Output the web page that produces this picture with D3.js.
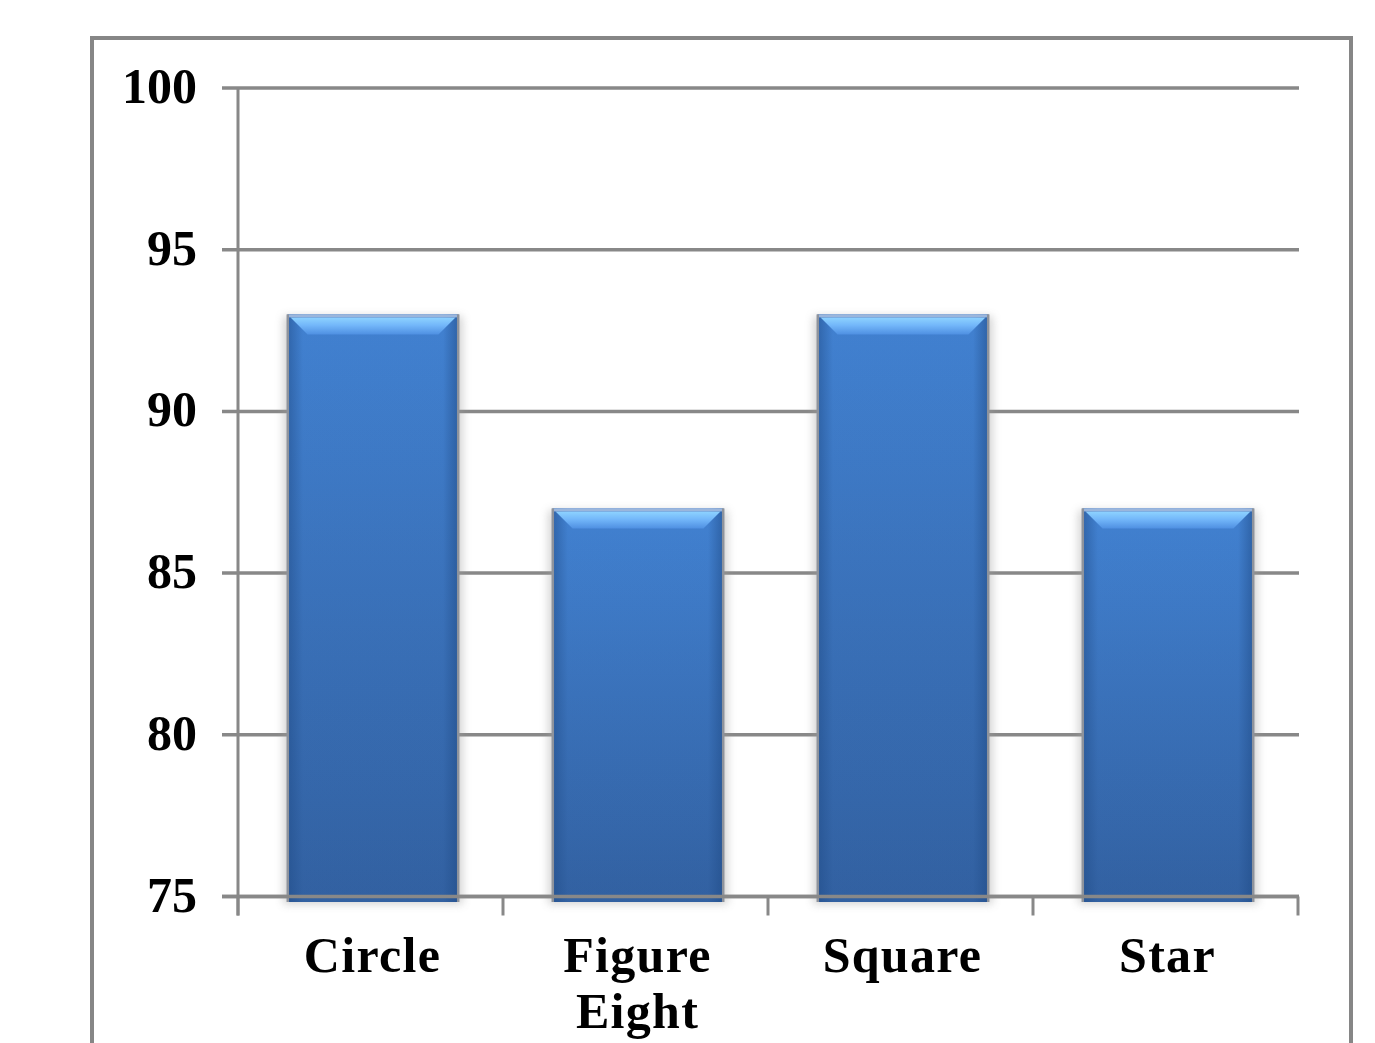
<!DOCTYPE html>
<html>
<head>
<meta charset="utf-8">
<script src="https://cdn.jsdelivr.net/npm/d3@7"></script>
<style>
  body { margin: 0; background: #fff; }
  svg { display: block; }
  text { font-family: "Liberation Serif", "Times New Roman", serif; font-weight: bold; fill: #000; }
</style>
</head>
<body>
<svg></svg>
<script>
const categories = ['Circle', 'Figure Eight', 'Square', 'Star']
const values = [93, 87, 93, 87]
const yTicks = [75, 80, 85, 90, 95, 100]

function drawChart() {
    const W = 1375, H = 1043
    const margin = {top: 88, bottom: 146.5, left: 238, right: 77}
    const width = W - margin.left - margin.right
    const height = H - margin.top - margin.bottom
    const grey = '#888888'

    const svg = d3.select('svg')
        .attr('width', W)
        .attr('height', H)

    // outer chart frame (bottom edge falls outside the picture)
    svg.append('rect')
        .attr('x', 92).attr('y', 38)
        .attr('width', 1259).attr('height', 1100)
        .attr('fill', 'none')
        .attr('stroke', '#868686')
        .attr('stroke-width', 4)

    const defs = svg.append('defs')
    const vgrad = defs.append('linearGradient').attr('id', 'barV')
        .attr('x1', 0).attr('y1', 0).attr('x2', 0).attr('y2', 1)
    vgrad.append('stop').attr('offset', '0%').attr('stop-color', '#4587d9')
    vgrad.append('stop').attr('offset', '100%').attr('stop-color', '#3463a4')

    const hgrad = defs.append('linearGradient').attr('id', 'barH')
        .attr('x1', 0).attr('y1', 0).attr('x2', 1).attr('y2', 0)
    hgrad.append('stop').attr('offset', '0%').attr('stop-color', '#1f4a85').attr('stop-opacity', 0.55)
    hgrad.append('stop').attr('offset', '9%').attr('stop-color', '#1f4a85').attr('stop-opacity', 0.1)
    hgrad.append('stop').attr('offset', '91%').attr('stop-color', '#1f4a85').attr('stop-opacity', 0.1)
    hgrad.append('stop').attr('offset', '100%').attr('stop-color', '#1f4a85').attr('stop-opacity', 0.6)

    const bevel = defs.append('linearGradient').attr('id', 'bevel')
        .attr('x1', 0).attr('y1', 0).attr('x2', 0).attr('y2', 1)
    bevel.append('stop').attr('offset', '0%').attr('stop-color', '#8ed3ff')
    bevel.append('stop').attr('offset', '45%').attr('stop-color', '#74b8fa')
    bevel.append('stop').attr('offset', '100%').attr('stop-color', '#4f90e2')

    defs.append('filter').attr('id', 'shadow')
        .attr('x', '-20%').attr('y', '-5%').attr('width', '140%').attr('height', '110%')
        .append('feGaussianBlur').attr('stdDeviation', 4)

    const g = svg.append('g')
        .attr('transform', `translate(${margin.left}, ${margin.top})`)

    const x = d3.scaleBand()
        .domain(categories)
        .range([0, width])
        .paddingInner(0.355)
        .paddingOuter(0.1775)

    const y = d3.scaleLinear()
        .domain([75, 100])
        .range([height, 0])

    // gridlines + left tick stubs
    g.append('g')
        .selectAll('line')
        .data(yTicks)
        .join('line')
            .attr('x1', -16)
            .attr('x2', width + 1)
            .attr('y1', d => y(d))
            .attr('y2', d => y(d))
            .attr('stroke', grey)
            .attr('stroke-width', 3.5)

    // bars (drawn a touch right of band centre, like the original)
    const bars = g.append('g')
        .selectAll('g')
        .data(categories.map((c, i) => ({cat: c, value: values[i]})))
        .join('g')
            .attr('transform', d => `translate(${x(d.cat) + 2.5}, ${y(d.value)})`)

    const bw = x.bandwidth()
    const bh = d => y(75) - y(d.value) + 5.5

    bars.append('rect')
        .attr('x', -4).attr('y', 2)
        .attr('width', bw + 8)
        .attr('height', d => bh(d))
        .attr('fill', '#9a9a9a')
        .attr('opacity', 0.45)
        .attr('filter', 'url(#shadow)')

    bars.append('rect')
        .attr('width', bw)
        .attr('height', d => bh(d))
        .attr('fill', 'url(#barV)')

    bars.append('rect')
        .attr('width', bw)
        .attr('height', d => bh(d))
        .attr('fill', 'url(#barH)')

    // top bevel
    bars.append('path')
        .attr('d', `M3,3 L${bw - 3},3 L${bw - 20},20 L20,20 Z`)
        .attr('fill', 'url(#bevel)')

    bars.append('rect')
        .attr('width', bw).attr('height', 3)
        .attr('fill', '#9bb6dc')

    // grey side edges
    bars.append('rect')
        .attr('x', -1).attr('width', 2.5)
        .attr('height', d => bh(d))
        .attr('fill', '#8e939c')
    bars.append('rect')
        .attr('x', bw - 1.5).attr('width', 2.5)
        .attr('height', d => bh(d))
        .attr('fill', '#8e939c')

    // x axis line and category ticks
    g.append('line')
        .attr('x1', -16).attr('x2', width + 1)
        .attr('y1', height).attr('y2', height)
        .attr('stroke', grey).attr('stroke-width', 3.5)

    const bounds = categories.map(c => x(c) - x.step() * x.paddingInner() / 2).concat([width])
    g.append('g')
        .selectAll('line')
        .data(bounds)
        .join('line')
            .attr('x1', d => Math.max(d, 0))
            .attr('x2', d => Math.max(d, 0))
            .attr('y1', height)
            .attr('y2', height + 19)
            .attr('stroke', grey)
            .attr('stroke-width', 3)

    // y axis line
    g.append('line')
        .attr('x1', 0).attr('x2', 0)
        .attr('y1', 0).attr('y2', height + 19)
        .attr('stroke', grey).attr('stroke-width', 3)

    // y tick labels
    g.append('g')
        .selectAll('text')
        .data(yTicks)
        .join('text')
            .attr('x', -41)
            .attr('y', d => y(d) + 15)
            .attr('text-anchor', 'end')
            .attr('font-size', '50px')
            .text(d => d)

    // category labels, wrapped to the band
    g.append('g')
        .selectAll('text')
        .data(categories)
        .join('text')
            .attr('x', d => x(d) + bw / 2 + 2)
            .attr('y', height + 75.5)
            .attr('text-anchor', 'middle')
            .attr('font-size', '50px')
            .attr('letter-spacing', '1.3px')
            .each(function(d) {
                const t = d3.select(this)
                const cx = x(d) + bw / 2 + 2
                const words = d.split(' ')
                let line = []
                let tspan = t.append('tspan').attr('x', cx).attr('dy', 0)
                for (const w of words) {
                    line.push(w)
                    tspan.text(line.join(' '))
                    if (tspan.node().getComputedTextLength() > x.step() - 20 && line.length > 1) {
                        line.pop()
                        tspan.text(line.join(' '))
                        line = [w]
                        tspan = t.append('tspan').attr('x', cx).attr('dy', 56).text(w)
                    }
                }
            })
}

drawChart()
</script>
</body>
</html>
